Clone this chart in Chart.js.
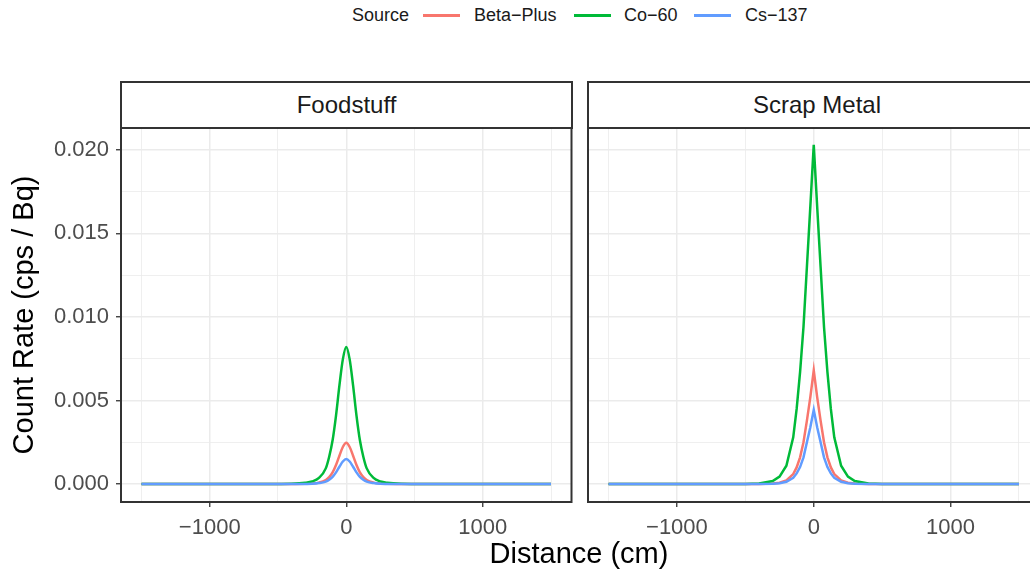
<!DOCTYPE html>
<html lang="en">
  <head>
    <meta charset="UTF-8">
    <title>Count rate by distance</title>
    <style>
      html, body { margin: 0; padding: 0; background: #fff; overflow: hidden; width: 1030px; height: 575px; }
      body { position: relative; font-family: "Liberation Sans", Arial, sans-serif; }
      canvas { position: absolute; }
      .strip {
        position: absolute; box-sizing: border-box; border: 2px solid #333;
        background: #fff; color: #1a1a1a; font-size: 24px; text-align: center; line-height: 43px;
      }
      .legend { position: absolute; top: 5px; font-size: 18px; color: #1a1a1a; white-space: nowrap; }
      .key { position: absolute; top: 14px; width: 37px; height: 2.5px; }
      #xtitle { position: absolute; top: 537px; left: 0; width: 1158px; text-align: center; font-size: 29px; color: #000; }
    </style>
  </head>
  <body>
    <span class="legend" style="left:352px">Source</span>
    <div class="key" style="left:423px;background:#F8766D"></div>
    <span class="legend" style="left:474px">Beta−Plus</span>
    <div class="key" style="left:574px;background:#00BA38"></div>
    <span class="legend" style="left:624px">Co−60</span>
    <div class="key" style="left:694px;background:#619CFF"></div>
    <span class="legend" style="left:745px">Cs−137</span>

    <div class="strip" style="left:120px;top:81px;width:453px;height:48px">Foodstuff</div>
    <div class="strip" style="left:587px;top:81px;width:460px;height:48px">Scrap Metal</div>

    <canvas id="food" width="580" height="440" style="left:0;top:120px"></canvas>
    <canvas id="scrap" width="470" height="440" style="left:580px;top:120px"></canvas>

    <div id="xtitle">Distance (cm)</div>

  <script src="https://cdn.jsdelivr.net/npm/chart.js"></script>
  <script>
    // distance from the source (cm)
    const distance = [-1500, -1000, -750, -500, -400, -300, -250, -200, -150, -125, -100, -75, -50, -25, 0,
                      25, 50, 75, 100, 125, 150, 200, 250, 300, 400, 500, 750, 1000, 1500];

    const sources = ['Beta−Plus', 'Co−60', 'Cs−137'];
    const colors = ['#F8766D', '#00BA38', '#619CFF'];

    // Foodstuff (cps / Bq)
    const foodBeta = [0, 0, 0, 0, 0.00001, 0.00002, 0.00004, 0.00009, 0.00024, 0.00042, 0.00070, 0.00114, 0.00170, 0.00222, 0.00247,
                      0.00222, 0.00170, 0.00114, 0.00070, 0.00042, 0.00024, 0.00009, 0.00004, 0.00002, 0.00001, 0, 0, 0, 0];
    const foodCo60 = [0, 0, 0, 0.00001, 0.00002, 0.00008, 0.00016, 0.00037, 0.00094, 0.00164, 0.00262, 0.00410, 0.00590, 0.00746, 0.00820,
                      0.00746, 0.00590, 0.00410, 0.00262, 0.00164, 0.00094, 0.00037, 0.00016, 0.00008, 0.00002, 0.00001, 0, 0, 0];
    const foodCs137 = [0, 0, 0, 0, 0, 0.00001, 0.00002, 0.00006, 0.00015, 0.00026, 0.00043, 0.00070, 0.00104, 0.00135, 0.00150,
                       0.00135, 0.00104, 0.00070, 0.00043, 0.00026, 0.00015, 0.00006, 0.00002, 0.00001, 0, 0, 0, 0, 0];

    // Scrap Metal (cps / Bq)
    const scrapBeta = [0, 0, 0, 0, 0.00001, 0.00003, 0.00008, 0.00022, 0.00060, 0.00100, 0.00160, 0.00250, 0.00380, 0.00520, 0.00680,
                       0.00520, 0.00380, 0.00250, 0.00160, 0.00100, 0.00060, 0.00022, 0.00008, 0.00003, 0.00001, 0, 0, 0, 0];
    const scrapCo60 = [0, 0, 0, 0.00001, 0.00004, 0.00018, 0.00045, 0.00110, 0.00280, 0.00450, 0.00670, 0.00940, 0.01300, 0.01660, 0.02030,
                       0.01660, 0.01300, 0.00940, 0.00670, 0.00450, 0.00280, 0.00110, 0.00045, 0.00018, 0.00004, 0.00001, 0, 0, 0];
    const scrapCs137 = [0, 0, 0, 0, 0, 0.00002, 0.00005, 0.00014, 0.00038, 0.00064, 0.00102, 0.00160, 0.00250, 0.00340, 0.00444,
                        0.00340, 0.00250, 0.00160, 0.00102, 0.00064, 0.00038, 0.00014, 0.00005, 0.00002, 0, 0, 0, 0, 0];

    // grid positions; labelled ones are the majors
    const xTicks = [-1500, -1000, -500, 0, 500, 1000, 1500];
    const xTicksMajor = [-1000, 0, 1000];
    const yTicks = [0, 0.0025, 0.005, 0.0075, 0.01, 0.0125, 0.015, 0.0175, 0.02];
    const yTicksMajor = [0, 0.005, 0.01, 0.015, 0.02];

    const FONT = '"Liberation Sans", Arial, sans-serif';
    const isMajorX = v => xTicksMajor.includes(v);
    const isMajorY = v => yTicksMajor.includes(v);

    /* Panel border drawn over everything */
    const panelBorder = {
      id: 'panelBorder',
      afterDraw(chart) {
        const a = chart.chartArea;
        const ctx = chart.ctx;
        ctx.save();
        ctx.strokeStyle = '#333333';
        ctx.lineWidth = 2;
        ctx.strokeRect(a.left, a.top, a.right - a.left, a.bottom - a.top);
        ctx.restore();
      }
    };

    /* keep the panel exactly where the layout padding puts it */
    function noLabelPadding(s) {
      s.paddingTop = 0;
      s.paddingBottom = 0;
      s.paddingLeft = 0;
      s.paddingRight = 0;
    }

    function makeSeries(values) {
      return distance.map((d, i) => ({ x: d, y: values[i] }));
    }

    function makeChart(id, series, showY, smooth, padding) {
      const datasets = series.map((vals, i) => ({
        label: sources[i],
        data: makeSeries(vals),
        borderColor: colors[i],
        borderWidth: 2.5,
        pointRadius: 0,
        fill: false,
        tension: 0,
        cubicInterpolationMode: smooth ? 'monotone' : 'default',
        order: 2 - i
      }));
      return new Chart(document.getElementById(id), {
        type: 'line',
        data: { datasets: datasets },
        plugins: [panelBorder],
        options: {
          responsive: false,
          animation: false,
          devicePixelRatio: 1,
          layout: { padding: padding, autoPadding: false },
          plugins: { legend: { display: false }, tooltip: { enabled: false } },
          scales: {
            x: {
              type: 'linear',
              min: -1650,
              max: 1650,
              afterBuildTicks: s => { s.ticks = xTicks.map(v => ({ value: v })); },
              afterFit: s => { s.height = 58; noLabelPadding(s); },
              border: { display: false },
              grid: {
                color: '#ebebeb',
                lineWidth: c => isMajorX(c.tick.value) ? 1.5 : 0.8,
                tickColor: c => isMajorX(c.tick.value) ? '#333333' : 'rgba(0,0,0,0)',
                tickLength: 5,
                tickWidth: 1.3
              },
              ticks: {
                autoSkip: false,
                maxRotation: 0,
                minRotation: 0,
                padding: 8,
                color: '#4d4d4d',
                font: { family: FONT, size: 22 },
                callback: v => isMajorX(v) ? (v < 0 ? '\u2212' + Math.abs(v) : String(v)) : ''
              }
            },
            y: {
              type: 'linear',
              min: -0.00107,
              max: 0.0213,
              afterBuildTicks: s => { s.ticks = yTicks.map(v => ({ value: v })); },
              afterFit: s => { s.width = showY ? 121 : 0; noLabelPadding(s); },
              border: { display: false },
              grid: {
                color: '#ebebeb',
                lineWidth: c => isMajorY(c.tick.value) ? 1.5 : 0.8,
                drawTicks: showY,
                tickColor: c => isMajorY(c.tick.value) ? '#333333' : 'rgba(0,0,0,0)',
                tickLength: 5,
                tickWidth: 1.3
              },
              ticks: {
                display: showY,
                autoSkip: false,
                padding: 7,
                color: '#4d4d4d',
                font: { family: FONT, size: 22 },
                callback: v => isMajorY(v) ? v.toFixed(3) : ''
              },
              title: {
                display: showY,
                text: 'Count Rate (cps / Bq)',
                color: '#000000',
                font: { family: FONT, size: 29 },
                padding: { top: 8, bottom: 0 }
              }
            }
          }
        }
      });
    }

    makeChart('food', [foodBeta, foodCo60, foodCs137], true, true,
      { top: 8, bottom: 0, left: 0, right: 8.5 });
    makeChart('scrap', [scrapBeta, scrapCo60, scrapCs137], false, false,
      { top: 8, bottom: 0, left: 8, right: 10.5 });
  </script>
  </body>
</html>
